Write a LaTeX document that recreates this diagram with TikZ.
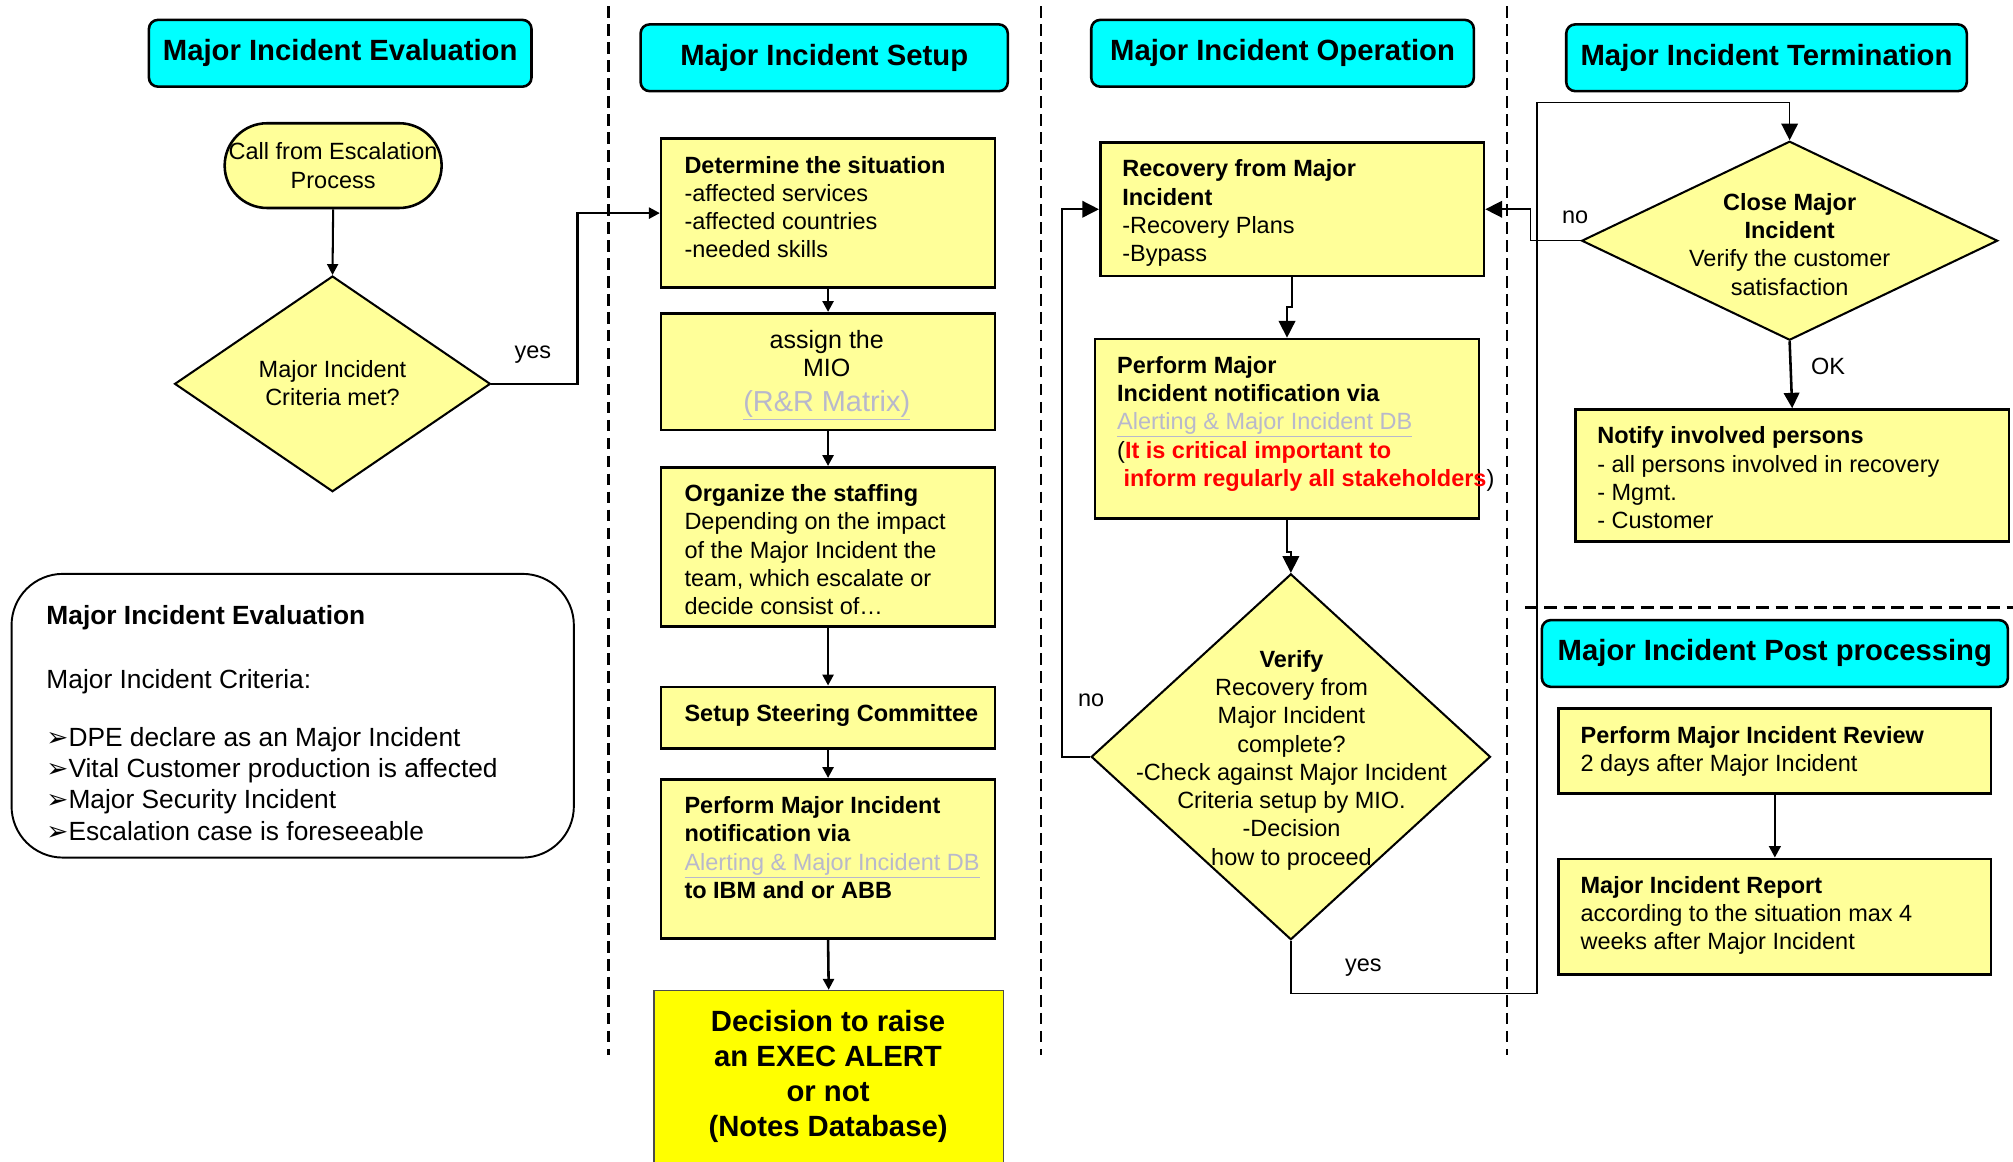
\documentclass[tikz,border=0pt]{standalone}
\usepackage{fontspec}
\setmainfont{Liberation Sans}
\newfontfamily\dejavu{DejaVu Sans}
\usetikzlibrary{arrows.meta,shapes.geometric}
\definecolor{ltyel}{RGB}{255,255,153}
\definecolor{cyn}{RGB}{0,255,255}
\definecolor{lnk}{RGB}{184,184,204}
\definecolor{byel}{RGB}{255,255,0}
\definecolor{rd}{RGB}{255,0,0}
\newcommand{\lk}[1]{{\color{lnk}\underline{#1}}}
\newcommand{\bul}{{\dejavu ➢}}
\begin{document}
\begin{tikzpicture}[x=1pt,y=-1pt,
  ttl/.style={draw,line width=2pt,fill=cyn,rounded corners=7pt,inner sep=0pt,
    font=\fontsize{22.8}{27}\selectfont\bfseries,text height=16.3pt,text depth=4.8pt},
  box/.style={draw,line width=2pt,fill=ltyel,inner sep=0pt,anchor=north west},
  txt/.style={anchor=north west,inner sep=0pt,align=left,font=\fontsize{18.3}{22}\selectfont},
  ctxt/.style={anchor=north,inner sep=0pt,align=center,font=\fontsize{18.3}{22}\selectfont},
  dia/.style={diamond,draw,line width=1.6pt,fill=ltyel,inner sep=0pt},
  lbl/.style={anchor=base,inner sep=0pt,font=\fontsize{18.3}{22}\selectfont},
  arrS/.style={-{Triangle[length=8.5pt,width=8.5pt]},line width=2pt},
  arrL/.style={-{Triangle[length=13pt,width=13pt]},line width=1.2pt},
  sepl/.style={line width=2pt,dash pattern=on 9pt off 5pt}]
\useasboundingbox (0,0) rectangle (1568,905);

% separators
\draw[sepl] (474,5) -- (474,822);
\draw[sepl] (811,5) -- (811,822);
\draw[sepl] (1174,5) -- (1174,822);
\draw[sepl,dash pattern=on 10pt off 5pt] (1188,473) -- (1568,473);

% titles
\node[ttl,minimum width=298pt,minimum height=52pt] (t1) at (265,41.5) {Major Incident Evaluation};
\node[ttl,minimum width=286pt,minimum height=52pt] (t2) at (642,45) {Major Incident Setup};
\node[ttl,minimum width=298pt,minimum height=52pt] (t3) at (999,41.5) {Major Incident Operation};
\node[ttl,minimum width=312pt,minimum height=52pt] (t4) at (1376,45) {Major Incident Termination};
\node[ttl,minimum width=363pt,minimum height=52pt] (t5) at (1382.5,509) {Major Incident Post processing};

% evaluation column
\node[draw,line width=2pt,fill=ltyel,rounded corners=33pt,minimum width=169pt,minimum height=66pt,
  inner sep=0pt,align=center,font=\fontsize{18.3}{22}\selectfont] (call) at (259.5,129) {Call from Escalation\\Process};
\node[dia,minimum width=246pt,minimum height=168pt] (d1) at (259,299) {};
\node[ctxt] (d1t) at (259,278.2) {\strut Major Incident\\Criteria met?};
\node[draw,line width=1.5pt,fill=white,rounded corners=40pt,minimum width=438pt,minimum height=221pt,inner sep=0pt] (evb) at (228,557.5) {};
\node[anchor=north west,inner sep=0pt,align=left,font=\fontsize{20.5}{24.3}\selectfont] (evt) at (36,469.2)
  {\strut\textbf{Major Incident Evaluation}\\[25.7pt]Major Incident Criteria:\\[20.7pt]\bul DPE declare as an Major Incident\\\bul Vital Customer production is affected\\\bul Major Security Incident\\\bul Escalation case is foreseeable};

% setup column
\node[box,minimum width=260pt,minimum height=116pt] (det) at (514,107) {};
\node[txt] (dett) at (533,119.2) {\strut\textbf{Determine the situation}\\-affected services\\-affected countries\\-needed skills};
\node[box,minimum width=260pt,minimum height=91pt] (asg) at (514,243) {};
\node[anchor=north,inner sep=0pt,align=center,font=\fontsize{19.5}{22}\selectfont] (asgt) at (644,255.6)
  {\strut assign the\\MIO\\[5pt]{\fontsize{22.5}{26}\selectfont\lk{(R\&R Matrix)}}};
\node[box,minimum width=260pt,minimum height=124pt] (org) at (514,363) {};
\node[txt] (orgt) at (533,375.2) {\strut\textbf{Organize the staffing}\\Depending on the impact\\of the Major Incident the\\team, which escalate or\\decide consist of…};
\node[box,minimum width=260pt,minimum height=48pt] (str) at (514,534) {};
\node[txt] (strt) at (533,546.2) {\strut\textbf{Setup Steering Committee}};
\node[box,minimum width=260pt,minimum height=124pt] (ntf) at (514,606) {};
\node[txt] (ntft) at (533,618.2) {\strut\textbf{Perform Major Incident}\\\textbf{notification via}\\\lk{Alerting \& Major Incident DB}\\\textbf{to IBM and or ABB}};
\node[draw=gray!60!black,line width=1pt,fill=byel,inner sep=0pt,anchor=north west,minimum width=272pt,minimum height=140pt] (dec) at (509,771) {};
\node[anchor=north,inner sep=0pt,align=center,font=\fontsize{22.8}{27.3}\selectfont\bfseries] (dect) at (645,784)
  {\strut Decision to raise\\an EXEC ALERT\\or not\\(Notes Database)};

% operation column
\node[box,minimum width=299pt,minimum height=104pt] (rec) at (856,110) {};
\node[txt] (rect) at (874,122.2) {\strut\textbf{Recovery from Major}\\\textbf{Incident}\\-Recovery Plans\\-Bypass};
\node[box,minimum width=299pt,minimum height=140pt] (prf) at (852,263) {};
\node[txt] (prft) at (870,275.2) {\strut\textbf{Perform Major}\\\textbf{Incident notification via}\\\lk{Alerting \& Major Incident DB}\\(\textcolor{rd}{\textbf{It is critical important to}}\\\hspace*{5pt}\textcolor{rd}{\textbf{inform regularly all stakeholders}})};
\node[dia,minimum width=311pt,minimum height=285pt] (ver) at (1005.5,589.5) {};
\node[ctxt] (vert) at (1006,504.2) {\strut\textbf{Verify}\\Recovery from\\Major Incident\\complete?\\-Check against Major Incident\\Criteria setup by MIO.\\-Decision\\how to proceed};

% termination column
\node[dia,minimum width=324pt,minimum height=155pt] (cls) at (1394,187.5) {};
\node[ctxt] (clst) at (1394,148.2) {\strut\textbf{Close Major}\\\textbf{Incident}\\Verify the customer\\satisfaction};
\node[box,minimum width=338pt,minimum height=103pt] (nop) at (1226,318) {};
\node[txt] (nopt) at (1244,330.2) {\strut\textbf{Notify involved persons}\\- all persons involved in recovery\\- Mgmt.\\- Customer};

% post processing
\node[box,minimum width=337pt,minimum height=66pt] (rev) at (1213,551) {};
\node[txt] (revt) at (1231,563.2) {\strut\textbf{Perform Major Incident Review}\\2 days after Major Incident};
\node[box,minimum width=337pt,minimum height=90pt] (rep) at (1213,668) {};
\node[txt] (rept) at (1231,680.2) {\strut\textbf{Major Incident Report}\\according to the situation max 4\\weeks after Major Incident};

% labels
\node[lbl] (l1) at (415,279) {yes};
\node[lbl] (l2) at (850,550) {no};
\node[lbl] (l3) at (1062,757) {yes};
\node[lbl] (l4) at (1227,174) {no};
\node[lbl] (l5) at (1424,291.5) {OK};

% connectors
\coordinate (ybend) at (1197,80);
\draw[arrS,line width=1.6pt] (call.south) -- (d1.north);
\draw[arrS] (d1.east) -- ++(67,0) |- (det.west);
\draw[arrS] (det.south) -- (asg.north);
\draw[arrS] (asg.south) -- (org.north);
\draw[arrS] (org.south) -- (str.north);
\draw[arrS] (str.south) -- (ntf.north);
\draw[arrS] (ntf.south) -- (dec.north);
\draw[arrL] (rec.south) -- ++(0,23) -| (prf.north);
\draw[arrL] (prf.south) -- ++(0,25) -| (ver.north);
\draw[arrL] (ver.west) -- ++(-22,0) |- (rec.west);
\draw[arrL] (ver.south) -- ++(0,41) -| (ybend) -| (cls.north);
\draw[arrL] (cls.west) -- ++(-39,0) |- (rec.east);
\draw[arrS,-{Triangle[length=12pt,width=12pt]}] (cls.south) -- (nop.north);
\draw[arrS,-{Triangle[length=9pt,width=9pt]}] (rev.south) -- (rep.north);
\end{tikzpicture}
\end{document}
